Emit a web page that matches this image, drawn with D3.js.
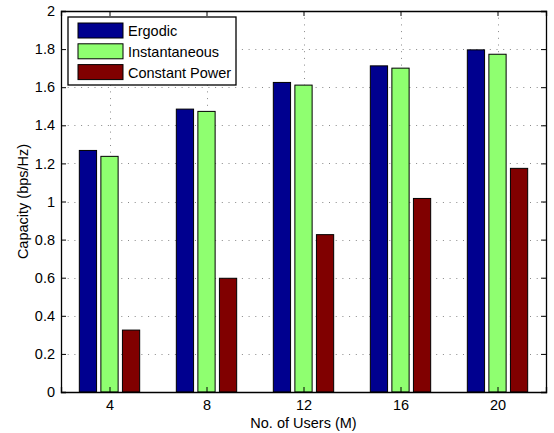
<!DOCTYPE html>
<html>
<head>
<meta charset="utf-8">
<script src="https://cdn.jsdelivr.net/npm/d3@7"></script>
<style>
  body { margin: 0; background: #fff; }
  text { font-family: "Liberation Sans", Arial, sans-serif; }
</style>
</head>
<body>
<svg id="chart" width="554" height="433"></svg>
<script>
// data
var users = [4, 8, 12, 16, 20];
var seriesNames = ["Ergodic", "Instantaneous", "Constant Power"];
var ergodic = [1.268, 1.485, 1.625, 1.712, 1.796];
var instantaneous = [1.237, 1.473, 1.611, 1.700, 1.773];
var constantPower = [0.325, 0.597, 0.826, 1.016, 1.174];
var yTicks = [0, 0.2, 0.4, 0.6, 0.8, 1, 1.2, 1.4, 1.6, 1.8, 2];
var colors = ["#00008f", "#8fff70", "#800000"];

var series = [ergodic, instantaneous, constantPower];

var margin = {top: 11, right: 8, bottom: 40, left: 61},
  width = 554 - margin.left - margin.right,
  height = 433 - margin.top - margin.bottom - 1;

var fs = "14.5px";

var svg = d3.select("#chart")
  .append("g")
  .attr("transform", "translate(" + margin.left + "," + margin.top + ")");

var x = d3.scaleLinear().domain([2, 22]).range([0, width]);
var y = d3.scaleLinear().domain([0, 2]).range([height, 0]);

// matlab grouped bar geometry (3 bars per group)
var step = 4;
var barW = step * 0.1778;
var offs = [-0.2222, 0, 0.2222].map(function(o) { return o * step; });

// dotted grid
svg.selectAll("line.hgrid")
  .data(yTicks.slice(1, -1))
  .enter().append("line")
  .attr("x1", 0).attr("x2", width)
  .attr("y1", function(d) { return Math.round(y(d)) + 0.5; })
  .attr("y2", function(d) { return Math.round(y(d)) + 0.5; })
  .attr("stroke", "#888")
  .attr("stroke-width", 1)
  .attr("stroke-dasharray", "1,5.7");

svg.selectAll("line.vgrid")
  .data(users)
  .enter().append("line")
  .attr("x1", function(d) { return Math.round(x(d)) + 0.5; })
  .attr("x2", function(d) { return Math.round(x(d)) + 0.5; })
  .attr("y1", 0).attr("y2", height)
  .attr("stroke", "#888")
  .attr("stroke-width", 1)
  .attr("stroke-dasharray", "1,5.7");

// bars
series.forEach(function(vals, i) {
  svg.selectAll("rect.s" + i)
    .data(vals)
    .enter().append("rect")
    .attr("x", function(d, j) { return x(users[j] + offs[i] - barW / 2); })
    .attr("y", function(d) { return y(d); })
    .attr("width", x(barW) - x(0))
    .attr("height", function(d) { return height - y(d); })
    .attr("fill", colors[i])
    .attr("stroke", "#000")
    .attr("stroke-width", 1);
});

// axes box with inward ticks
var yAxisL = d3.axisLeft(y).tickValues(yTicks).tickSize(-5).tickPadding(6)
  .tickFormat(function(d) { return d3.format("")(+d.toFixed(1)); });
var yAxisR = d3.axisRight(y).tickValues(yTicks).tickSize(-5).tickFormat("");
var xAxisB = d3.axisBottom(x).tickValues(users).tickSize(-5).tickPadding(8);
var xAxisT = d3.axisTop(x).tickValues(users).tickSize(-5).tickFormat("");

svg.append("g").call(yAxisL);
svg.append("g").attr("transform", "translate(" + width + ",0)").call(yAxisR);
svg.append("g").attr("transform", "translate(0," + height + ")").call(xAxisB);
svg.append("g").call(xAxisT);

svg.selectAll(".domain").attr("stroke", "#000").attr("stroke-width", 1.3);
svg.selectAll(".tick line").attr("stroke", "#000");
svg.selectAll(".tick text").attr("font-size", fs).attr("fill", "#000")
  .style("font-family", "Liberation Sans, Arial, sans-serif");

// axis labels
svg.append("text")
  .attr("x", width / 2).attr("y", height + 36)
  .attr("text-anchor", "middle")
  .attr("font-size", fs)
  .text("No. of Users (M)");

svg.append("text")
  .attr("transform", "translate(" + (-33) + "," + (height / 2) + ") rotate(-90)")
  .attr("text-anchor", "middle")
  .attr("font-size", fs)
  .text("Capacity (bps/Hz)");

// legend
var lg = svg.append("g").attr("transform", "translate(7,6)");
lg.append("rect")
  .attr("width", 168).attr("height", 68)
  .attr("fill", "#fff").attr("stroke", "#000").attr("stroke-width", 1.3);
seriesNames.forEach(function(name, i) {
  lg.append("rect")
    .attr("x", 10).attr("y", 6 + i * 20.8)
    .attr("width", 45).attr("height", 15)
    .attr("fill", colors[i]).attr("stroke", "#000");
  lg.append("text")
    .attr("x", 60).attr("y", 19 + i * 20.8)
    .attr("font-size", fs)
    .text(name);
});
</script>
</body>
</html>
